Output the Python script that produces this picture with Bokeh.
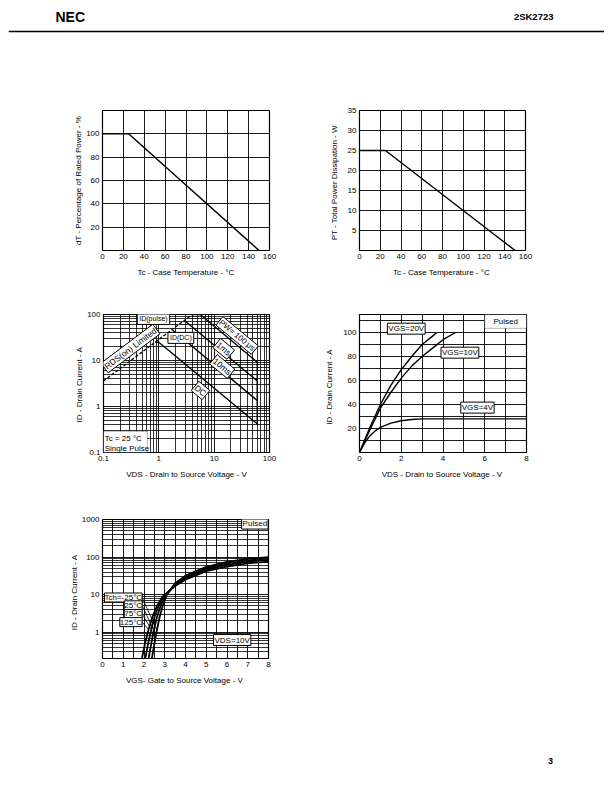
import numpy as np
from bokeh.plotting import figure
from bokeh.layouts import column, row
from bokeh.models import (Label, Spacer, FixedTicker, CustomJSTickFormatter,
                          Range1d, BoxAnnotation, Span)
from bokeh.embed import file_html
from bokeh.resources import INLINE

FONT = "Liberation Sans"

# ---------------- data ----------------
# 1: derating factor of forward bias SOA
derate_tc = [0, 25, 150]
derate_pct = [100, 100, 0]
temp_ticks = [0, 20, 40, 60, 80, 100, 120, 140, 160]
derate_yticks = [20, 40, 60, 80, 100]

# 2: total power dissipation vs case temperature
pt_tc = [0, 25, 150]
pt_w = [25, 25, 0]
pt_yticks = [5, 10, 15, 20, 25, 30, 35]

# 3: forward bias safe operating area
rds_v = [0.1, 4.0]
rds_i = [3.6, 100]
idp_v = [4.0, 5.6]
idp_i = [100, 100]
pw100u_v = [5.6, 60]
pw100u_i = [100, 9.2]
pw1m_v = [2.9, 60]
pw1m_i = [74, 3.6]
pw10m_v = [1.75, 60]
pw10m_i = [46.5, 1.35]
dc_v = [0.86, 1.0, 60]
dc_i = [25, 25, 0.42]
vdss_v = [60, 60]
vdss_i = [0.42, 9.2]
soa_ticks = [0.1, 1, 10, 100]

# 4: drain current vs drain to source voltage
vgs20_v = [0, 0.5, 1.0, 1.5, 2.0, 2.5, 3.0, 3.5, 3.7]
vgs20_i = [0, 21, 40, 56, 69, 80, 90, 97, 100]
vgs10_v = [0, 0.5, 1.0, 1.5, 2.0, 2.5, 3.0, 3.5, 4.0, 4.6]
vgs10_i = [0, 19, 37, 50, 62, 72, 80, 87, 94, 100]
vgs4_v = [0, 0.25, 0.5, 0.75, 1.0, 1.5, 2.0, 2.5, 3.0, 4.0, 6.0, 8.0]
vgs4_i = [0, 8, 14, 18, 21, 24.5, 26.5, 27.5, 28, 28, 28, 28]
id_ticks = [20, 40, 60, 80, 100]
vds_ticks = [0, 2, 4, 6, 8]

# 5: forward transfer characteristics
tm25_v = [2.38, 2.5, 2.6, 2.75, 2.9, 3.1, 3.5, 4.0, 5.0, 6.0, 7.0, 8.0]
tm25_i = [0.2, 0.5, 1.0, 2.5, 5, 10, 20, 32, 55, 75, 90, 100]
t25_v = [2.22, 2.35, 2.45, 2.62, 2.8, 3.0, 3.5, 4.0, 5.0, 6.0, 7.0, 8.0]
t25_i = [0.2, 0.5, 1.0, 2.5, 5, 9, 19, 29, 50, 68, 82, 92]
t75_v = [2.06, 2.2, 2.32, 2.5, 2.7, 2.95, 3.5, 4.0, 5.0, 6.0, 7.0, 8.0]
t75_i = [0.2, 0.5, 1.0, 2.5, 5, 9, 18, 27, 46, 62, 75, 84]
t125_v = [1.9, 2.05, 2.18, 2.4, 2.62, 2.9, 3.5, 4.0, 5.0, 6.0, 7.0, 8.0]
t125_i = [0.2, 0.5, 1.0, 2.5, 5, 9, 17, 25, 42, 56, 68, 76]
vgs_ticks = [0, 1, 2, 3, 4, 5, 6, 7, 8]
ft_ticks = [1, 10, 100, 1000]
tch_labels = ["Tch=-25°C", "25°C", "75°C", "125°C"]


def make_fig(w, h, l, r, t, b, xr, yr, xtype="linear", ytype="linear", ystand=6):
    p = figure(width=w, height=h, x_range=Range1d(*xr), y_range=Range1d(*yr),
               x_axis_type=xtype, y_axis_type=ytype, output_backend="svg",
               toolbar_location=None, min_border_left=l, min_border_right=r,
               min_border_top=t, min_border_bottom=b)
    p.outline_line_color = "black"
    p.outline_line_width = 1.2
    p.outline_line_alpha = 1.0
    p.background_fill_color = "white"
    p.border_fill_color = "white"
    p.grid.grid_line_color = "black"
    p.grid.grid_line_alpha = 1.0
    p.grid.grid_line_width = 0.9
    for ax in p.axis:
        ax.axis_line_color = None
        ax.major_tick_line_color = None
        ax.minor_tick_line_color = None
        ax.major_tick_out = 0
        ax.major_tick_in = 0
        ax.minor_tick_out = 0
        ax.minor_tick_in = 0
        ax.major_label_text_font = FONT
        ax.major_label_text_font_size = "8px"
        ax.major_label_text_color = "black"
        ax.axis_label_text_font = FONT
        ax.axis_label_text_font_size = "8px"
        ax.axis_label_text_font_style = "normal"
        ax.axis_label_text_color = "black"
        ax.major_label_standoff = 3
        ax.axis_label_standoff = 6
    p.yaxis.axis_label_standoff = ystand
    return p


def lab(p, x, y, text, units="data", align="left", baseline="middle",
        size="8px", box=False, angle=0.0, bold=False, pad=1):
    kw = dict(x=x, y=y, text=text, x_units=units, y_units=units,
              text_align=align, text_baseline=baseline, text_font=FONT,
              text_font_size=size, text_color="black", angle=angle)
    if box:
        kw.update(background_fill_color="white", background_fill_alpha=1.0,
                  border_line_color="black", border_line_width=1, padding=pad)
    if bold:
        kw["text_font_style"] = "bold"
    p.add_layout(Label(**kw))


def log_minor(decades):
    return [m * 10.0 ** d for d in decades for m in range(2, 10)]


log_fmt = CustomJSTickFormatter(code="return tick.toString();")

# ---------------- header ----------------
hdr = figure(width=596, height=40, x_range=Range1d(0, 596), y_range=Range1d(0, 40),
             output_backend="svg", toolbar_location=None, min_border=0,
             x_axis_location=None, y_axis_location=None)
hdr.grid.visible = False
hdr.outline_line_color = None
hdr.add_layout(Span(location=17, dimension="width", line_color="black", line_width=1.3))
lab(hdr, 47, 32, "NEC", size="14px", bold=True)
lab(hdr, 545, 32, "2SK2723", align="right", size="9.5px", bold=True)

# ---------------- chart 1 ----------------
p1 = make_fig(298, 238, 94, 37, 61, 34, (0, 160), (0, 120), ystand=0)
p1.xaxis.ticker = FixedTicker(ticks=temp_ticks)
p1.yaxis.ticker = FixedTicker(ticks=derate_yticks)
p1.xaxis.axis_label = "Tc - Case Temperature - °C"
p1.yaxis.axis_label = "dT - Percentage of Rated Power - %"
p1.line(derate_tc, derate_pct, line_color="black", line_width=1.4)
lab(p1, 8, 143 + 19.5, "DERATING FACTOR OF FORWARD BIAS", units="screen")
lab(p1, 8, 143 + 10.5, "SAFE OPERATING AREA", units="screen")

# ---------------- chart 2 ----------------
p2 = make_fig(298, 238, 53, 79, 62, 36, (0, 160), (0, 35))
p2.xaxis.ticker = FixedTicker(ticks=temp_ticks)
p2.yaxis.ticker = FixedTicker(ticks=pt_yticks)
p2.xaxis.axis_label = "Tc - Case Temperature  - °C"
p2.yaxis.axis_label = "PT - Total Power Dissipation  -  W"
p2.line(pt_tc, pt_w, line_color="black", line_width=1.4)
lab(p2, 22, 140 + 20, "TOTAL POWER DISSIPATION vs.", units="screen")
lab(p2, 22, 140 + 11, "CASE TEMPERATURE", units="screen")

# ---------------- chart 3 ----------------
p3 = make_fig(298, 202, 95, 37, 28, 36, (0.1, 100), (0.1, 100), "log", "log", ystand=0)
p3.xaxis.ticker = FixedTicker(ticks=soa_ticks, minor_ticks=log_minor([-1, 0, 1]))
p3.yaxis.ticker = FixedTicker(ticks=soa_ticks, minor_ticks=log_minor([-1, 0, 1]))
p3.xaxis.formatter = log_fmt
p3.yaxis.formatter = log_fmt
p3.grid.minor_grid_line_color = "black"
p3.grid.minor_grid_line_alpha = 1.0
p3.grid.minor_grid_line_width = 0.8
p3.xaxis.axis_label = "VDS - Drain to Source Voltage - V"
p3.yaxis.axis_label = "ID -  Drain Current - A"
p3.line(rds_v, rds_i, line_color="black", line_width=1.3, line_dash="3 2")
for xs, ys in [(idp_v, idp_i), (pw100u_v, pw100u_i), (pw1m_v, pw1m_i),
               (pw10m_v, pw10m_i), (dc_v, dc_i), (vdss_v, vdss_i)]:
    p3.line(xs, ys, line_color="black", line_width=1.4)
lab(p3, 83, 150, "FORWARD BIAS SAFE OPERATING AREA", units="screen", align="center")
lab(p3, 0.80, 80, "ID(pulse)", align="center", size="7px", box=True, pad=2)
lab(p3, 2.5, 31, "ID(DC)", align="center", size="7px", box=True, pad=2)
lab(p3, 0.307, 18.2, "RDS(on) Limited", align="center", size="8.5px", box=True, angle=0.644)
lab(p3, 26, 35, "PW= 100 μs", align="center", size="8px", box=True, angle=-0.69)
lab(p3, 14.9, 17.9, "1ms", align="center", size="8.5px", box=True, angle=-0.69)
lab(p3, 14, 7.4, "10ms", align="center", size="8.5px", box=True, angle=-0.69)
lab(p3, 5.66, 2.23, "DC", align="center", size="8.5px", box=True, angle=-0.69)
p3.add_layout(BoxAnnotation(left=0.1, right=0.62, bottom=0.1, top=0.29,
                            fill_color="white", fill_alpha=1.0,
                            line_color="black", line_width=1))
lab(p3, 0.105, 0.20, "Tc = 25 °C", size="8px")
lab(p3, 0.105, 0.124, "Single Pulse", size="8px")

# ---------------- chart 4 ----------------
p4 = make_fig(298, 202, 53, 78, 28, 34, (0, 8), (0, 115))
p4.xaxis.ticker = FixedTicker(ticks=vds_ticks)
p4.yaxis.ticker = FixedTicker(ticks=id_ticks)
p4.xgrid.ticker = FixedTicker(ticks=[1, 2, 3, 4, 5, 6, 7])
p4.ygrid.ticker = FixedTicker(ticks=[10, 20, 30, 40, 50, 60, 70, 80, 90, 100, 110])
p4.xaxis.axis_label = "VDS -  Drain to Source Voltage - V"
p4.yaxis.axis_label = "ID -   Drain Current -  A"
p4.line(vgs20_v, vgs20_i, line_color="black", line_width=1.4)
p4.line(vgs10_v, vgs10_i, line_color="black", line_width=1.4)
p4.line(vgs4_v, vgs4_i, line_color="black", line_width=1.4)
lab(p4, 27, 140 + 20, "DRAIN CURRENT vs.", units="screen")
lab(p4, 27, 140 + 12, "DRAIN TO SOURCE VOLTAGE", units="screen")
p4.add_layout(BoxAnnotation(left=6, right=8, bottom=103.5, top=115,
                            fill_color="white", fill_alpha=1.0,
                            line_color="black", line_width=1))
lab(p4, 7.0, 109, "Pulsed", align="center")
lab(p4, 2.24, 103.2, "VGS=20V", align="center", size="8px", box=True)
lab(p4, 4.81, 83.2, "VGS=10V", align="center", size="8px", box=True)
lab(p4, 5.65, 37.4, "VGS=4V", align="center", size="8px", box=True)

# ---------------- chart 5 ----------------
p5 = make_fig(298, 202, 94, 38, 31, 32, (0, 8), (0.2, 1000), "linear", "log", ystand=0)
p5.xaxis.ticker = FixedTicker(ticks=vgs_ticks)
p5.xgrid.ticker = FixedTicker(ticks=[0.5 * k for k in range(1, 16)])
p5.yaxis.ticker = FixedTicker(ticks=ft_ticks, minor_ticks=log_minor([-1, 0, 1, 2]))
p5.yaxis.formatter = log_fmt
p5.ygrid.minor_grid_line_color = "black"
p5.ygrid.minor_grid_line_alpha = 1.0
p5.ygrid.minor_grid_line_width = 0.8
p5.xaxis.axis_label = "VGS- Gate to Source Voltage -  V"
p5.yaxis.axis_label = "ID -  Drain Current  -  A"
for xs, ys in [(tm25_v, tm25_i), (t25_v, t25_i), (t75_v, t75_i), (t125_v, t125_i)]:
    p5.line(xs, ys, line_color="black", line_width=1.8)
lab(p5, 84, 139 + 14, "FORWARD TRANSFER CHARACTERISTICS", units="screen", align="center")
lab(p5, 7.98, 780, "Pulsed", align="right", baseline="middle", box=True)
lab(p5, 6.25, 0.62, "VDS=10V", align="center", box=True)
tch_y = [8.4, 5.2, 3.07, 1.86]
tch_tip_v = [2.63, 2.48, 2.35, 2.21]
tch_tip_i = [1.1, 1.1, 1.2, 1.2]
for txt, yy, tv, ti in zip(tch_labels, tch_y, tch_tip_v, tch_tip_i):
    p5.line([1.91, tv], [yy, ti], line_color="black", line_width=0.8)
    lab(p5, 1.91, yy, txt, align="right", size="8px", box=True, pad=0)

# ---------------- footer ----------------
ftr = figure(width=596, height=84, x_range=Range1d(0, 596), y_range=Range1d(0, 84),
             output_backend="svg", toolbar_location=None, min_border=0,
             x_axis_location=None, y_axis_location=None)
ftr.grid.visible = False
ftr.outline_line_color = None
lab(ftr, 542, 14, "3", align="center", size="9px", bold=True)

body = column(hdr, row(p1, p2), row(p3, p4), row(p5, Spacer(width=298, height=202)), ftr)
layout = row(Spacer(width=8, height=10), column(Spacer(width=10, height=8), body))

open("out.html", "w").write(file_html(layout, INLINE))
